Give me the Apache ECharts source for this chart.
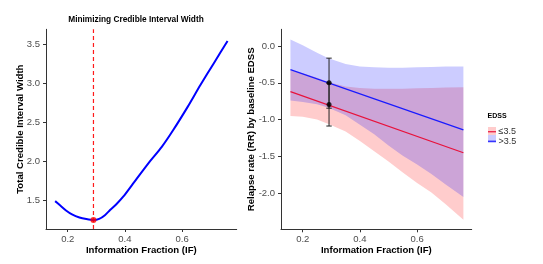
<!DOCTYPE html>
<html>
<head>
<meta charset="utf-8">
<script src="https://cdn.jsdelivr.net/npm/echarts@6/dist/echarts.min.js"></script>
<style>
  html, body { margin: 0; padding: 0; background: #fff; }
  #chart { width: 543px; height: 264px; }
</style>
</head>
<body>
<div id="chart"></div>
<script>
// Left panel: credible interval width vs information fraction
const widthIF = [0.156, 0.175, 0.194, 0.215, 0.241, 0.265, 0.29, 0.31, 0.33, 0.348, 0.37, 0.394, 0.429, 0.482, 0.529, 0.569, 0.62, 0.663, 0.71, 0.759];
const widthVal = [1.49, 1.43, 1.37, 1.32, 1.28, 1.26, 1.248, 1.262, 1.31, 1.376, 1.45, 1.546, 1.717, 1.973, 2.185, 2.40, 2.70, 2.97, 3.25, 3.54];
const optIF = 0.29;
const optWidth = 1.248;
const widthRange = [1.133, 3.69];

// Right panel: fitted relapse rate lines and bands
const lineIF = [0.157, 0.762];
const lowLine = [-0.62, -1.45];   // EDSS <= 3.5
const highLine = [-0.32, -1.14];  // EDSS > 3.5
const bandIF = [0.157, 0.2, 0.25, 0.29, 0.35, 0.4, 0.45, 0.5, 0.55, 0.6, 0.65, 0.7, 0.762];
const lowUpper = [-0.33, -0.37, -0.43, -0.49, -0.55, -0.57, -0.58, -0.58, -0.58, -0.575, -0.57, -0.565, -0.56];
const lowLower = [-0.95, -0.96, -1.0, -1.06, -1.16, -1.29, -1.43, -1.57, -1.72, -1.86, -1.99, -2.15, -2.36];
const highUpper = [0.09, 0.01, -0.09, -0.165, -0.245, -0.28, -0.29, -0.295, -0.295, -0.29, -0.285, -0.28, -0.28];
const highLower = [-0.74, -0.76, -0.79, -0.84, -0.94, -1.07, -1.2, -1.35, -1.49, -1.61, -1.74, -1.88, -2.05];
// interim estimates with intervals: [IF, estimate, lower, upper]
const interim = [[0.292, -0.795, -1.087, -0.505], [0.292, -0.50, -0.845, -0.165]];

const FONT = '"Liberation Sans", Arial, sans-serif';
const AXIS = '#333333';
const TICK_TEXT = '#4d4d4d';

function xAxis(gridIndex) {
  return {
    type: 'value', gridIndex, min: 0.124, max: 0.791,
    name: 'Information Fraction (IF)', nameLocation: 'middle', nameGap: 16, nameMoveOverlap: false,
    nameTextStyle: { fontFamily: FONT, fontSize: 9.6, fontWeight: 'bold', color: '#000' },
    axisLine: { onZero: false, lineStyle: { color: AXIS, width: 1 } },
    axisTick: { customValues: [0.2, 0.4, 0.6], length: 3, lineStyle: { color: AXIS } },
    axisLabel: { customValues: [0.2, 0.4, 0.6], margin: 5, fontFamily: FONT, fontSize: 9.5, color: TICK_TEXT, formatter: (v) => v.toFixed(1) },
    splitLine: { show: false },
  };
}

function yAxis(gridIndex, name, min, max, ticks, gap) {
  return {
    type: 'value', gridIndex, min, max,
    name, nameLocation: 'middle', nameGap: gap, nameMoveOverlap: false,
    nameTextStyle: { fontFamily: FONT, fontSize: 9.6, fontWeight: 'bold', color: '#000' },
    axisLine: { show: true, onZero: false, lineStyle: { color: AXIS, width: 1 } },
    axisTick: { show: true, customValues: ticks, length: 3, lineStyle: { color: AXIS } },
    axisLabel: { customValues: ticks, margin: 6, fontFamily: FONT, fontSize: 9.5, color: TICK_TEXT, formatter: (v) => v.toFixed(1) },
    splitLine: { show: false },
  };
}

function band(name, upper, lower, color) {
  return {
    name, type: 'custom', xAxisIndex: 1, yAxisIndex: 1,
    itemStyle: { color },
    data: [0],
    silent: true,
    renderItem: (params, api) => {
      const pts = [];
      bandIF.forEach((x, i) => pts.push(api.coord([x, upper[i]])));
      for (let i = bandIF.length - 1; i >= 0; i--) pts.push(api.coord([bandIF[i], lower[i]]));
      return { type: 'polygon', shape: { points: pts }, style: { fill: color } };
    },
  };
}

const chart = echarts.init(document.getElementById('chart'), null, { renderer: 'canvas' });
chart.setOption({
  animation: false,
  textStyle: { fontFamily: FONT },
  title: [
    { text: 'Minimizing Credible Interval Width', left: 136, top: 16, textAlign: 'center', padding: 0,
      textStyle: { fontFamily: FONT, fontSize: 8.3, fontWeight: 'bold', color: '#000' } },
    { text: 'EDSS', left: 487.5, top: 113, padding: 0,
      textStyle: { fontFamily: FONT, fontSize: 7, fontWeight: 'bold', color: '#000' } },
  ],
  legend: [
    { data: ['≤3.5 band', '>3.5 band'], orient: 'vertical', left: 488, top: 127, padding: 0, itemGap: 0,
      icon: 'rect', itemWidth: 8, itemHeight: 8, selectedMode: false, formatter: () => '',
      textStyle: { fontSize: 9, lineHeight: 9.5 } },
    { data: ['≤3.5', '>3.5'], orient: 'vertical', left: 488, top: 127, padding: 0, itemGap: 0,
      icon: 'rect', itemWidth: 8, itemHeight: 1.2, selectedMode: false,
      textStyle: { fontFamily: FONT, fontSize: 9, lineHeight: 9.5, color: '#333', padding: [0, 0, 0, -2.5] } },
  ],
  grid: [
    { left: 46, top: 29.3, width: 190.7, height: 199.7 },
    { left: 281, top: 29.3, width: 190.7, height: 200 },
  ],
  xAxis: [xAxis(0), xAxis(1)],
  yAxis: [
    yAxis(0, 'Total Credible Interval Width', widthRange[0], widthRange[1], [1.5, 2.0, 2.5, 3.0, 3.5], 21),
    yAxis(1, 'Relapse rate (RR) by baseline EDSS', -2.49, 0.227, [-2.0, -1.5, -1.0, -0.5, 0.0], 24.5),
  ],
  series: [
    {
      name: 'optimum line', type: 'custom', xAxisIndex: 0, yAxisIndex: 0, silent: true,
      data: [[optIF, widthRange[0], widthRange[1]]],
      renderItem: (params, api) => {
        const a = api.coord([api.value(0), api.value(1)]);
        const b = api.coord([api.value(0), api.value(2)]);
        return {
          type: 'line',
          shape: { x1: a[0], y1: a[1], x2: b[0], y2: b[1] },
          style: { stroke: '#ff1a1a', lineWidth: 1.2, lineDash: [4, 3], fill: null },
        };
      },
      z: 1,
    },
    {
      name: 'width', type: 'line', xAxisIndex: 0, yAxisIndex: 0, smooth: 0.2,
      data: widthIF.map((x, i) => [x, widthVal[i]]),
      showSymbol: false, lineStyle: { color: '#0000ff', width: 2 }, z: 2,
    },
    {
      name: 'optimum', type: 'scatter', xAxisIndex: 0, yAxisIndex: 0,
      data: [[optIF, optWidth]], symbolSize: 6, itemStyle: { color: '#ff0000' }, z: 3,
    },
    band('≤3.5 band', lowUpper, lowLower, 'rgba(255,0,0,0.2)'),
    band('>3.5 band', highUpper, highLower, 'rgba(0,0,255,0.2)'),
    {
      name: '≤3.5', type: 'line', xAxisIndex: 1, yAxisIndex: 1,
      data: lineIF.map((x, i) => [x, lowLine[i]]),
      showSymbol: false, lineStyle: { color: '#e8123c', width: 1.2 }, itemStyle: { color: '#e8123c' },
    },
    {
      name: '>3.5', type: 'line', xAxisIndex: 1, yAxisIndex: 1,
      data: lineIF.map((x, i) => [x, highLine[i]]),
      showSymbol: false, lineStyle: { color: '#1a1aff', width: 1.2 }, itemStyle: { color: '#1a1aff' },
    },
    {
      name: 'interval', type: 'custom', xAxisIndex: 1, yAxisIndex: 1, silent: true,
      data: interim.map((d) => [d[0], d[2], d[3]]),
      renderItem: (params, api) => {
        const lo = api.coord([api.value(0), api.value(1)]);
        const hi = api.coord([api.value(0), api.value(2)]);
        const w = 2.7;
        const style = { stroke: '#222', lineWidth: 1 };
        return {
          type: 'group',
          children: [
            { type: 'line', shape: { x1: lo[0], y1: lo[1], x2: hi[0], y2: hi[1] }, style },
            { type: 'line', shape: { x1: lo[0] - w, y1: lo[1], x2: lo[0] + w, y2: lo[1] }, style },
            { type: 'line', shape: { x1: hi[0] - w, y1: hi[1], x2: hi[0] + w, y2: hi[1] }, style },
          ],
        };
      },
      z: 4,
    },
    {
      name: 'estimate', type: 'scatter', xAxisIndex: 1, yAxisIndex: 1,
      data: interim.map((d) => [d[0], d[1]]), symbolSize: 5, itemStyle: { color: '#000' }, z: 5,
    },
  ],
});
</script>
</body>
</html>
